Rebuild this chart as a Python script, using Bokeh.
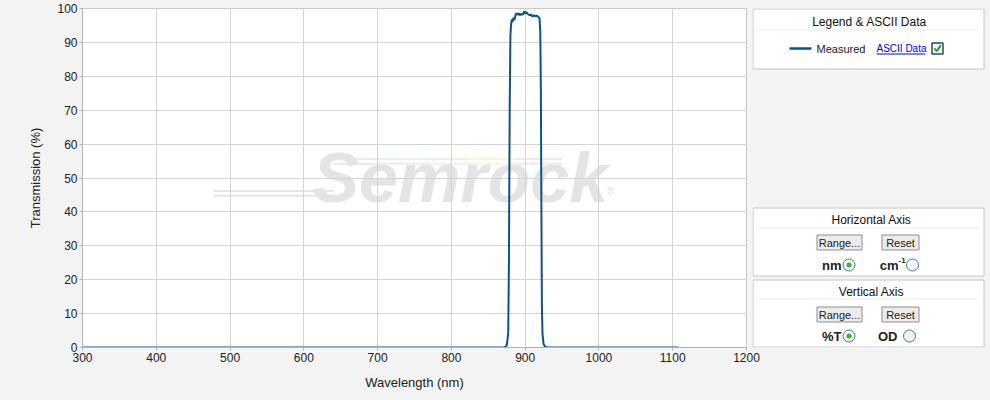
from bokeh.plotting import figure
from bokeh.models import Range1d, Label
from bokeh.layouts import row
from bokeh.core.properties import value
from bokeh.embed import file_html
from bokeh.resources import INLINE

# ---------------- data ----------------
wavelength_nm = [300, 872, 875, 877, 878, 879, 880, 881, 882, 883, 884, 885.5, 887, 888.5,
                 890, 891.5, 893, 895, 897, 899, 900.5, 902, 904, 906, 908, 910, 912, 914,
                 916, 918, 919.5, 920.5, 921.3, 922, 922.7, 923.5, 925, 927, 930, 1108]
transmission_pct = [0, 0, 0.6, 4, 25, 70, 92, 95.5, 96.8, 96.0, 97.3, 96.6, 98.2, 98.6,
                    98.1, 98.6, 98.0, 98.4, 98.2, 99.2, 98.5, 98.9, 98.3, 98.0, 98.2, 97.6, 98.0, 97.7,
                    97.9, 97.5, 97.0, 93, 75, 40, 12, 4, 1, 0.2, 0, 0]
x_ticks = [300, 400, 500, 600, 700, 800, 900, 1000, 1100, 1200]
y_ticks = [0, 10, 20, 30, 40, 50, 60, 70, 80, 90, 100]
series_name = "Measured"
x_title = "Wavelength (nm)"
y_title = "Transmission (%)"

FONT = "Liberation Sans"
BG = "#f3f3f3"
CURVE = "#0f528a"
GRID = "#d4d4d4"
TXT = "#222222"

# ---------------- main chart ----------------
p = figure(width=762, height=400, x_range=Range1d(300, 1200), y_range=Range1d(0, 100),
           output_backend="svg", toolbar_location=None,
           min_border_left=82, min_border_right=16, min_border_top=8, min_border_bottom=53)
p.background_fill_color = "white"
p.border_fill_color = BG
p.outline_line_color = "#c8c8c8"

p.xaxis.ticker = x_ticks
p.yaxis.ticker = y_ticks
p.xaxis.axis_label = x_title
p.yaxis.axis_label = y_title
for ax in (p.xaxis[0], p.yaxis[0]):
    ax.axis_line_color = "#b4b4b4"
    ax.major_tick_line_color = "#b4b4b4"
    ax.major_tick_out = 3
    ax.major_tick_in = 0
    ax.minor_tick_line_color = None
    ax.major_label_standoff = 2
    ax.major_label_text_font = FONT
    ax.major_label_text_font_size = "12px"
    ax.major_label_text_color = TXT
    ax.axis_label_text_font = FONT
    ax.axis_label_text_font_size = "13px"
    ax.axis_label_text_font_style = "normal"
    ax.axis_label_text_color = TXT
p.xaxis.axis_label_standoff = 10
p.yaxis.axis_label_standoff = 11
p.grid.grid_line_color = GRID

# faint watermark
wm_colors = ["#ece6f8", "#e2f0fb", "#e5f6e6", "#faf5da", "#fae4e4"]
wm_x0 = [640, 702, 764, 826, 888]
wm_x1 = [702, 764, 826, 888, 950]
for yy in (55.6, 54.2):
    p.segment(x0=wm_x0, y0=[yy] * 5, x1=wm_x1, y1=[yy] * 5, line_color=wm_colors,
              line_width=2, level="image")
for yy in (46.2, 44.8):
    p.segment(x0=[478], y0=[yy], x1=[640], y1=[yy], line_color="#e6e6e6",
              line_width=2, level="image")
p.add_layout(Label(x=812, y=50, text="Semrock", text_font=FONT, text_font_size="70px",
                   text_font_style="bold italic", text_color="#e4e4e4",
                   text_align="center", text_baseline="middle", level="image"))
p.add_layout(Label(x=1016, y=46, text="®", text_font=FONT, text_font_size="10px",
                   text_color="#e0e0e0", text_align="center", text_baseline="middle",
                   level="image"))

p.line(wavelength_nm, transmission_pct, line_color=CURVE, line_width=2)

# ---------------- side panel (page-pixel coordinates) ----------------
q = figure(width=238, height=400, x_range=Range1d(752, 990), y_range=Range1d(347, 8),
           output_backend="svg", toolbar_location=None,
           min_border_left=0, min_border_right=0, min_border_top=8, min_border_bottom=53,
           x_axis_location=None, y_axis_location=None, margin=(0, 0, 0, -10))
q.grid.visible = False
q.outline_line_color = None
q.background_fill_alpha = 0
q.border_fill_alpha = 0

# boxes
q.quad(left=[752.5, 752.5, 752.5], right=[983.5, 983.5, 983.5],
       top=[8.5, 207.5, 279.5], bottom=[68.5, 275.5, 346.5],
       fill_color="white", line_color="#c6c6c6", line_width=1)
q.segment(x0=[757, 757, 757], y0=[29.5, 227.5, 298.5], x1=[979, 979, 979],
          y1=[29.5, 227.5, 298.5], line_color="#ececec", line_width=1)

title_kw = dict(text_font=value(FONT), text_font_size="12px", text_color="#111111",
                text_align="center", text_baseline="middle")
q.text(x=[869, 871, 871], y=[21, 219.5, 291],
       text=["Legend & ASCII Data", "Horizontal Axis", "Vertical Axis"], **title_kw)

# legend row
q.line(x=[789, 811], y=[48, 48], line_color=CURVE, line_width=2.5)
q.text(x=[816], y=[48], text=[series_name], text_font=value(FONT), text_font_size="11px",
       text_color=TXT, text_align="left", text_baseline="middle")
q.text(x=[876], y=[47.5], text=["ASCII Data"], text_font=value(FONT), text_font_size="10px",
       text_color="#0000ee", text_align="left", text_baseline="middle")
q.segment(x0=[876], y0=[53.5], x1=[925], y1=[53.5], line_color="#0000ee", line_width=1)
q.quad(left=[931.5], right=[942.5], top=[42.5], bottom=[53.5], fill_color="#f4f8f4",
       line_color="#2a4d66", line_width=1.5)
q.line(x=[933.8, 936.3, 940.3], y=[47.8, 50.6, 44.6], line_color="#2aa32a", line_width=2)

# buttons
q.quad(left=[816.5, 881.5, 816.5, 881.5], right=[861.5, 918.5, 861.5, 918.5],
       top=[234.5, 234.5, 306.5, 306.5], bottom=[249.5, 249.5, 321.5, 321.5],
       fill_color="#ebebeb", line_color="#8e8e8e", line_width=1)
q.text(x=[839, 900, 839, 900], y=[242.5, 242.5, 314.5, 314.5],
       text=["Range...", "Reset", "Range...", "Reset"], text_font=value(FONT),
       text_font_size="11px", text_color=TXT, text_align="center", text_baseline="middle")

# radio labels
q.text(x=[841, 898, 841, 897], y=[264.5, 264.5, 335.5, 335.5], text=["nm", "cm", "%T", "OD"],
       text_font=value(FONT), text_font_size="13px", text_font_style="bold",
       text_color=TXT, text_align="right", text_baseline="middle")
q.text(x=[898], y=[260], text=["-1"], text_font=value(FONT), text_font_size="8px",
       text_font_style="bold", text_color=TXT, text_align="left", text_baseline="middle")
q.circle(x=[848.5, 912, 848.5, 909], y=[264.5, 264.5, 335.5, 335.5], radius=6,
         fill_color="#f6f6f6", line_color="#4b79a6", line_width=1)
q.circle(x=[848.5, 848.5], y=[264.5, 335.5], radius=2.5, fill_color="#36b143",
         line_color=None)

layout = row(p, q, styles={"background-color": BG})
open("out.html", "w").write(file_html(layout, INLINE))
